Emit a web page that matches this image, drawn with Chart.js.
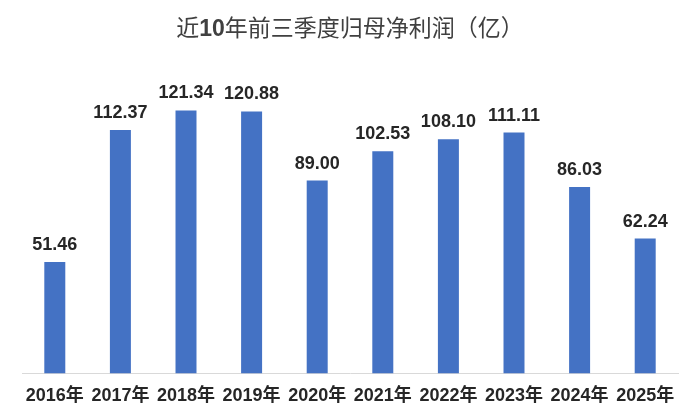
<!DOCTYPE html>
<html lang="zh">
<head>
    <meta charset="UTF-8">
    <script src="https://cdn.jsdelivr.net/npm/chart.js"></script>
    <title>近10年前三季度归母净利润</title>
    <style>
        body { margin: 0; background: #fff; }
        .wrap { position: relative; width: 700px; height: 419px; }
        .title {
            position: absolute; left: 0; top: 17px; width: 700px;
            text-align: center; font-size: 23px; line-height: 23px; color: #404040;
            font-family: 'Liberation Sans', Arial, 'Noto Sans CJK SC', sans-serif;
        }
        .title b { font-weight: bold; }
    </style>
</head>
<body>
    <div class="wrap">
        <div class="title">近<b>10</b>年前三季度归母净利润（亿）</div>
        <canvas id="barChart" width="700" height="419"></canvas>
    </div>

    <script>
        const years = ['2016年', '2017年', '2018年', '2019年', '2020年', '2021年', '2022年', '2023年', '2024年', '2025年'];
        const profit = [51.46, 112.37, 121.34, 120.88, 89.00, 102.53, 108.10, 111.11, 86.03, 62.24];

        const fontFamily = "'Liberation Sans', Arial, 'Noto Sans CJK SC', sans-serif";

        // values above each bar
        const valueLabels = {
            id: 'valueLabels',
            afterDatasetsDraw(chart) {
                const ctx = chart.ctx;
                const meta = chart.getDatasetMeta(0);
                ctx.save();
                ctx.font = 'bold 18px ' + fontFamily;
                ctx.fillStyle = '#262626';
                ctx.textAlign = 'center';
                ctx.textBaseline = 'alphabetic';
                meta.data.forEach((bar, i) => {
                    ctx.fillText(profit[i].toFixed(2), bar.x, bar.y - 12);
                });
                ctx.restore();
            }
        };

        const ctx = document.getElementById('barChart').getContext('2d');

        new Chart(ctx, {
            type: 'bar',
            data: {
                labels: years,
                datasets: [{
                    data: profit,
                    backgroundColor: '#4472C4',
                    barPercentage: 0.32,
                    categoryPercentage: 1
                }]
            },
            options: {
                responsive: false,
                animation: false,
                layout: { padding: { top: 70, left: 22, right: 22, bottom: 0 } },
                plugins: {
                    legend: { display: false },
                    tooltip: { enabled: false }
                },
                scales: {
                    x: {
                        grid: { display: false, drawTicks: false },
                        border: { display: true, color: '#D9D9D9', width: 1 },
                        ticks: {
                            padding: 12,
                            color: '#262626',
                            font: { family: fontFamily, size: 18, weight: 'bold' }
                        }
                    },
                    y: {
                        display: false,
                        min: 0,
                        max: 140
                    }
                }
            },
            plugins: [valueLabels]
        });
    </script>
</body>
</html>
